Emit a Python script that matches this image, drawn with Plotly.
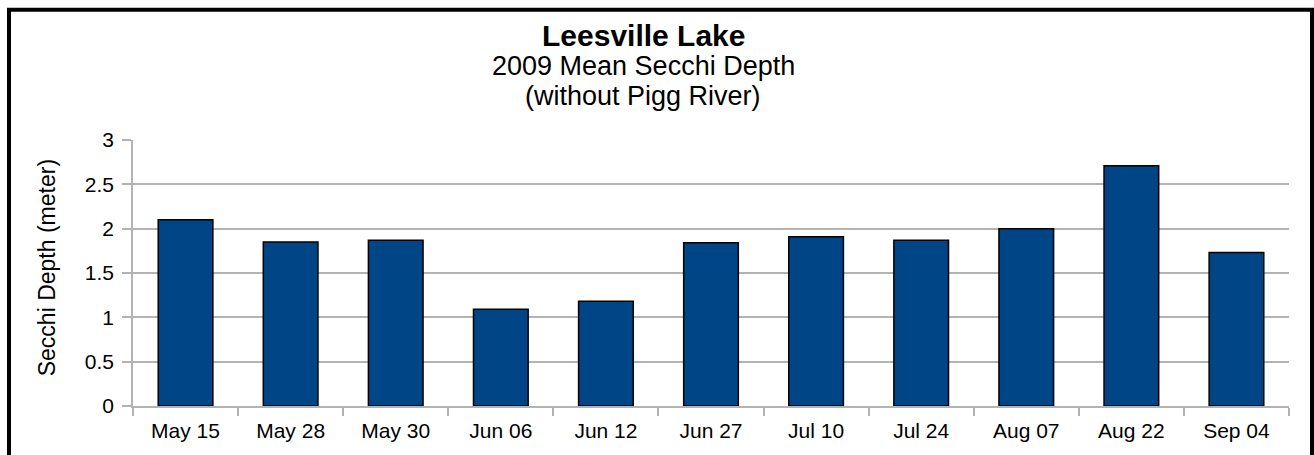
import plotly.graph_objects as go

# Sampling dates and mean Secchi depth (m), Leesville Lake 2009
dates = ["May 15", "May 28", "May 30", "Jun 06", "Jun 12", "Jun 27",
         "Jul 10", "Jul 24", "Aug 07", "Aug 22", "Sep 04"]
secchi_m = [2.10, 1.85, 1.87, 1.09, 1.18, 1.84, 1.91, 1.87, 2.00, 2.71, 1.73]
y_ticks = [0, 0.5, 1, 1.5, 2, 2.5, 3]

W, H = 1314, 455
ML, MR, MT, MB = 133, 25, 139.5, 49
PW, PH = W - ML - MR, H - MT - MB


def px_x(x):
    return (x - ML) / PW


def px_y(y):
    return (H - MB - y) / PH


FONT = "Liberation Sans, Arial, sans-serif"
GRID = "#b3b3b3"

fig = go.Figure(go.Bar(
    x=dates, y=secchi_m,
    marker=dict(color="#004586", line=dict(color="#000000", width=1.5)),
    width=0.52,
))

fig.update_layout(
    width=W, height=H,
    margin=dict(l=ML, r=MR, t=MT, b=MB, pad=0),
    paper_bgcolor="white", plot_bgcolor="white",
    showlegend=False,
    font=dict(family=FONT, color="#000000", size=21),
)

fig.update_xaxes(
    type="category", tickson="boundaries", ticks="outside", ticklen=8,
    tickcolor=GRID, tickwidth=1.5, showgrid=False,
    showline=True, linecolor=GRID, linewidth=1.5,
    tickfont=dict(size=21, family=FONT), ticklabelstandoff=5,
)
fig.update_yaxes(
    range=[0, 3], tickvals=y_ticks, ticktext=[f"{v:g}" for v in y_ticks],
    ticks="outside", ticklen=9, tickcolor=GRID, tickwidth=1.5,
    showgrid=True, gridcolor=GRID, gridwidth=1.5,
    showline=True, linecolor=GRID, linewidth=1.5,
    zeroline=False, tickfont=dict(size=21, family=FONT),
    ticklabelstandoff=4,
)

# Title block
cx = px_x(643)
fig.add_annotation(text="<b>Leesville Lake</b>", x=cx, y=px_y(35),
                   xref="paper", yref="paper", showarrow=False,
                   yanchor="middle", font=dict(size=30, family=FONT))
fig.add_annotation(text="2009 Mean Secchi Depth", x=cx, y=px_y(65),
                   xref="paper", yref="paper", showarrow=False,
                   yanchor="middle", font=dict(size=27, family=FONT))
fig.add_annotation(text="(without Pigg River)", x=cx, y=px_y(95),
                   xref="paper", yref="paper", showarrow=False,
                   yanchor="middle", font=dict(size=27, family=FONT))

# Y axis title
fig.add_annotation(text="Secchi Depth (meter)", textangle=-90,
                   x=px_x(47), y=px_y(268), xref="paper", yref="paper",
                   showarrow=False, xanchor="center", yanchor="middle",
                   font=dict(size=23, family=FONT))

# Frame around the chart
fig.add_shape(type="rect", xref="paper", yref="paper",
              x0=px_x(9), x1=px_x(1312), y0=px_y(470), y1=px_y(9),
              line=dict(color="#000000", width=4), fillcolor="rgba(0,0,0,0)",
              layer="above")

fig.write_html("out.html")
